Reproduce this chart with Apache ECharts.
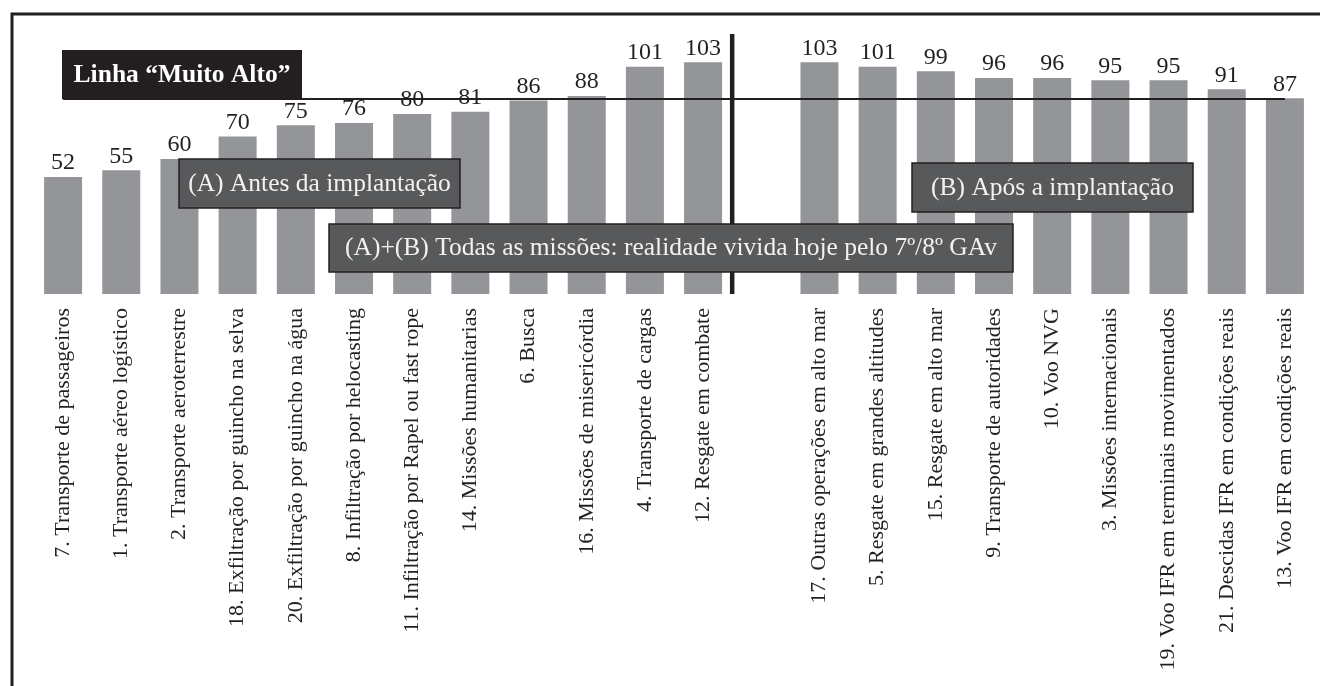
<!DOCTYPE html>
<html>
<head>
<meta charset="utf-8">
<title>Missões</title>
<script src="https://cdn.jsdelivr.net/npm/echarts@6/dist/echarts.min.js"></script>
<style>
  html, body { margin: 0; padding: 0; background: #fff; }
  #main { width: 1320px; height: 686px; }
</style>
</head>
<body>
<div id="main"></div>
<script>
// categorias (a vazia separa "antes" de "após")
var missoes = [
    '7. Transporte de passageiros',
    '1. Transporte aéreo logístico',
    '2. Transporte aeroterrestre',
    '18. Exfiltração por guincho na selva',
    '20. Exfiltração por guincho na água',
    '8. Infiltração por helocasting',
    '11. Infiltração por Rapel ou fast rope',
    '14. Missões humanitarias',
    '6. Busca',
    '16. Missões de misericórdia',
    '4. Transporte de cargas',
    '12. Resgate em combate',
    '',
    '17. Outras operações em alto mar',
    '5. Resgate em grandes altitudes',
    '15. Resgate em alto mar',
    '9. Transporte de autoridades',
    '10. Voo NVG',
    '3. Missões internacionais',
    '19. Voo IFR em terminais movimentados',
    '21. Descidas IFR em condições reais',
    '13. Voo IFR em condições reais'
]
var valores = [52, 55, 60, 70, 75, 76, 80, 81, 86, 88, 101, 103, '-', 103, 101, 99, 96, 96, 95, 95, 91, 87]

var linhaMuitoAlto = 87
// divisória vertical entre "12. Resgate em combate" e a coluna vazia
var divisor = [[11.5, 0], [11.5, 115.6]]

var serif = "'Liberation Serif', 'Times New Roman', serif"
var escuro = '#231f20'
var caixa = '#58595b'

var option = {
    animation: false,
    backgroundColor: '#fff',
    grid: { left: 34, right: 6, top: 24, bottom: 392 },
    xAxis: [
        {
            type: 'category',
            data: missoes,
            axisLine: { show: false },
            axisTick: { show: false },
            axisLabel: {
                rotate: 90,
                interval: 0,
                margin: 14,
                color: escuro,
                fontFamily: serif,
                fontSize: 22
            }
        },
        {
            // eixo auxiliar só para posicionar a divisória
            type: 'value',
            min: -0.5,
            max: missoes.length - 0.5,
            show: false,
            splitLine: { show: false }
        }
    ],
    yAxis: {
        type: 'value',
        min: 0,
        max: 120,
        show: false,
        splitLine: { show: false }
    },
    series: [
        {
            type: 'bar',
            data: valores,
            barWidth: 38,
            itemStyle: { color: '#939598' },
            label: {
                show: true,
                position: 'top',
                distance: 2,
                color: escuro,
                fontFamily: serif,
                fontSize: 24
            },
            markLine: {
                silent: true,
                symbol: 'none',
                label: { show: false },
                lineStyle: { color: escuro, width: 2, type: 'solid' },
                data: [[
                    { coord: [0, linhaMuitoAlto] },
                    { coord: [missoes.length - 1, linhaMuitoAlto] }
                ]]
            }
        },
        {
            type: 'line',
            xAxisIndex: 1,
            data: divisor,
            symbol: 'none',
            silent: true,
            lineStyle: { color: escuro, width: 4.5 }
        }
    ],
    graphic: [
        // moldura
        { type: 'rect', z: 100, shape: { x: 12, y: 14, width: 1400, height: 800 },
          style: { fill: 'none', stroke: escuro, lineWidth: 3 } },
        // Linha "Muito Alto"
        { type: 'rect', z: 100, shape: { x: 62, y: 50, width: 240, height: 49 },
          style: { fill: escuro } },
        { type: 'text', z: 101, x: 182, y: 75,
          style: { text: 'Linha “Muito Alto”', fill: '#fff', font: 'bold 25.5px ' + serif,
                   textAlign: 'center', textVerticalAlign: 'middle' } },
        // (A)
        { type: 'rect', z: 100, shape: { x: 179, y: 159, width: 281, height: 49 },
          style: { fill: caixa, stroke: escuro, lineWidth: 1.5 } },
        { type: 'text', z: 101, x: 319.5, y: 184,
          style: { text: '(A) Antes da implantação', fill: '#f2f2f2', font: '25.5px ' + serif,
                   textAlign: 'center', textVerticalAlign: 'middle' } },
        // (B)
        { type: 'rect', z: 100, shape: { x: 912, y: 163, width: 281, height: 49 },
          style: { fill: caixa, stroke: escuro, lineWidth: 1.5 } },
        { type: 'text', z: 101, x: 1052.5, y: 188,
          style: { text: '(B) Após a implantação', fill: '#f2f2f2', font: '25.5px ' + serif,
                   textAlign: 'center', textVerticalAlign: 'middle' } },
        // (A)+(B)
        { type: 'rect', z: 100, shape: { x: 329, y: 224, width: 684, height: 48 },
          style: { fill: caixa, stroke: escuro, lineWidth: 1.5 } },
        { type: 'text', z: 101, x: 671, y: 248,
          style: { text: '(A)+(B) Todas as missões: realidade vivida hoje pelo 7º/8º GAv', fill: '#f2f2f2',
                   font: '25.5px ' + serif, textAlign: 'center', textVerticalAlign: 'middle' } }
    ]
}

var myChart = echarts.init(document.getElementById('main'))
myChart.setOption(option)
</script>
</body>
</html>
